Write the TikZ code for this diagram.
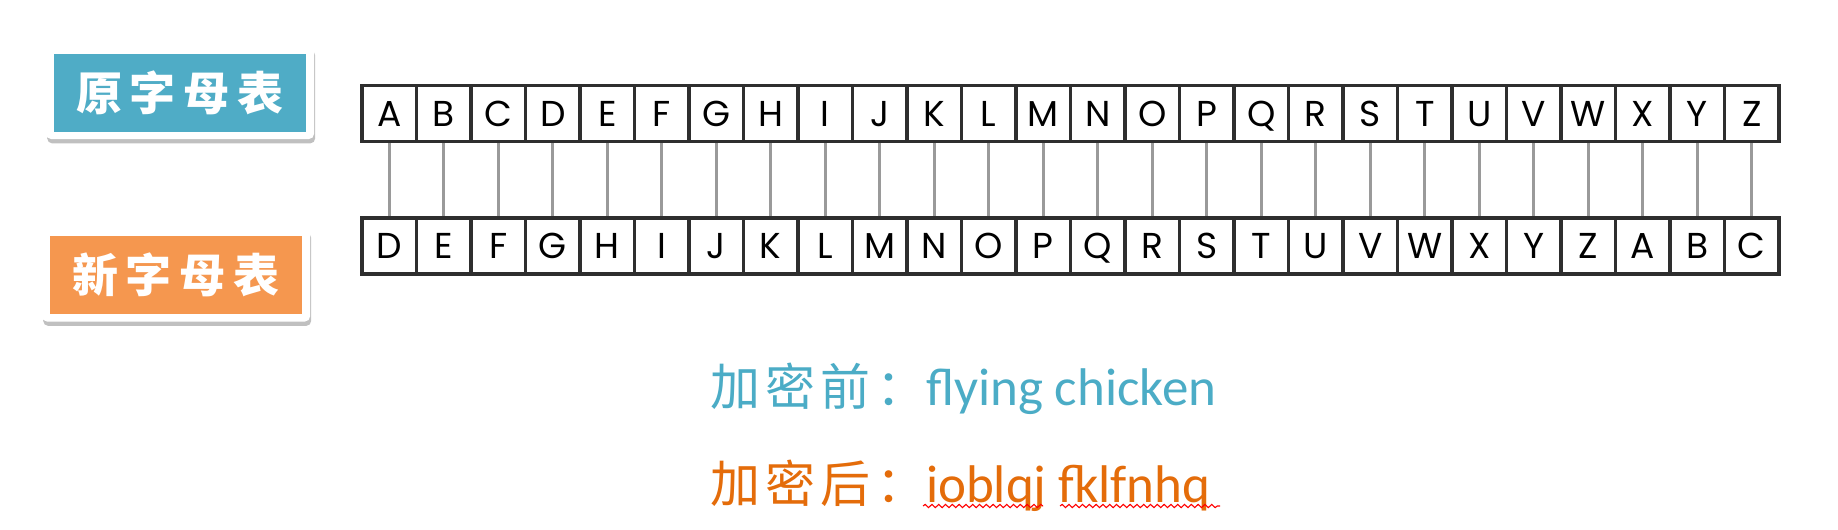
\documentclass[tikz,border=0pt]{standalone}
\usepackage{fontspec}
\usetikzlibrary{shadows,decorations.pathmorphing}
\newfontfamily\cjk{Noto Sans CJK SC}
\newfontfamily\letterfont{Poppins}
\newfontfamily\latinfont{Carlito}
\definecolor{lblue}{HTML}{4FACC6}
\definecolor{lorange}{HTML}{F5974F}
\definecolor{tblue}{HTML}{4BACC6}
\definecolor{torange}{HTML}{E46C0A}
\definecolor{cellgray}{HTML}{2E2E2E}
\definecolor{linkgray}{HTML}{9A9A9A}
\newcommand{\cs}{\hspace{2.6pt}}
\tikzset{
  cell/.style={draw=cellgray, line width=1.7pt, fill=white, minimum width=27.25pt, minimum height=28pt,
    inner sep=0pt, text height=12.6pt, text depth=0pt, font=\letterfont\fontsize{18}{18}\selectfont},
  link/.style={draw=linkgray, line width=1.5pt},
  frame/.style={fill=white, rounded corners=2.5pt, minimum width=134pt, minimum height=46.5pt, inner sep=0pt,
    drop shadow={shadow xshift=0.6pt, shadow yshift=-2.2pt, opacity=0.35, fill=black!70}},
  lbl/.style={minimum width=126pt, minimum height=39pt, inner sep=0pt, text=white,
    font=\cjk\bfseries\fontsize{23}{23}\selectfont},
  caption/.style={anchor=base west, inner sep=0pt},
  squiggle/.style={draw=red, line width=0.55pt, decorate, decoration={snake, amplitude=0.8pt, segment length=3.4pt}}
}
\begin{document}
\begin{tikzpicture}[x=0.5pt,y=-0.5pt]
\useasboundingbox[fill=white] (0,0) rectangle (1838,530);
% labels
\node[frame] (f1) at (180,92.5) {};
\node[lbl, fill=lblue] (l1) at (180,93) {原\hspace{4pt}字\hspace{4pt}母\hspace{4pt}表};
\node[frame] (f2) at (176,275) {};
\node[lbl, fill=lorange] (l2) at (176,275) {新\hspace{4pt}字\hspace{4pt}母\hspace{4pt}表};
% alphabet rows
\foreach \L [count=\i] in {A,B,C,D,E,F,G,H,I,J,K,L,M,N,O,P,Q,R,S,T,U,V,W,X,Y,Z}
  \node[cell] (t\i) at ({362+54.5*(\i-0.5)},113.5) {\L};
\foreach \L [count=\i] in {D,E,F,G,H,I,J,K,L,M,N,O,P,Q,R,S,T,U,V,W,X,Y,Z,A,B,C}
  \node[cell] (b\i) at ({362+54.5*(\i-0.5)},246) {\L};
\foreach \i in {1,...,26}
  \draw[link] (t\i.south) -- (b\i.north);
% captions
\node[caption, text=tblue] (c1) at (710,405)
  {{\cjk\fontsize{25}{25}\selectfont 加\cs 密\cs 前\cs ：}{\latinfont\fontsize{26.5}{26.5}\selectfont flying chicken}};
\node[caption, text=torange] (c2) at (710,502)
  {{\cjk\fontsize{25}{25}\selectfont 加\cs 密\cs 后\cs ：}{\latinfont\fontsize{26.5}{26.5}\selectfont ioblqj fklfnhq}};
\draw[squiggle] (923,506) -- (1043,506);
\draw[squiggle] (1060,506) -- (1220,506);
\end{tikzpicture}
\end{document}
